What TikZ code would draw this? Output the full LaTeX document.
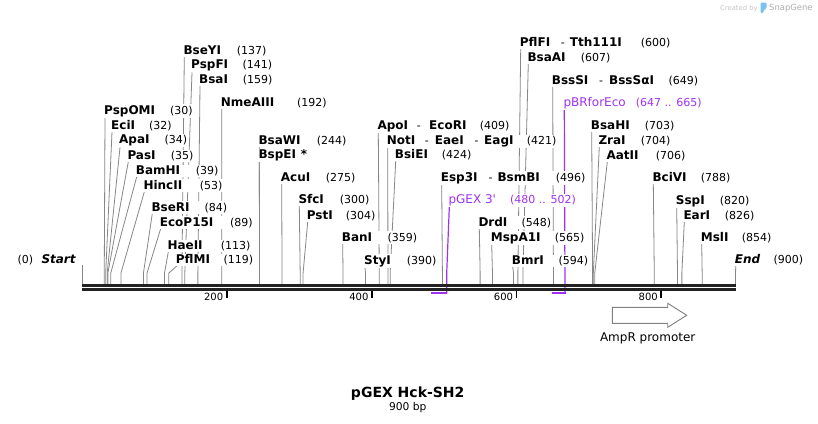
\documentclass[tikz,border=0pt]{standalone}
\usepackage{fontspec}
\setmainfont{DejaVu Sans}[Ligatures=TeXOff, ItalicFont={DejaVu Sans Oblique}, BoldItalicFont={DejaVu Sans Bold Oblique}]
\usetikzlibrary{calc}
\pgfdeclarelayer{bg}
\pgfdeclarelayer{paper}
\pgfsetlayers{paper,bg,main}
\definecolor{cutgray}{RGB}{135,135,135}
\definecolor{primer}{RGB}{160,50,240}
\definecolor{bbcol}{RGB}{34,34,34}
\definecolor{logoblue}{RGB}{120,195,240}
\newcommand\enz{\fontsize{12pt}{14pt}\selectfont\bfseries}
\newcommand\numf{\fontsize{11pt}{13pt}\selectfont\mdseries}
\newcommand\seg[2]{\makebox[#1pt][l]{#2}}
\newcommand\sitex[1]{82.5+0.7256*#1}
\newcommand\cutsite[5]{%
  \node[lab] (#1) at ({#2-1.8},{#3+4.4}) {#5};
  \coordinate (#1b) at ({\sitex{#4}},273);
  \coordinate (#1s) at ({\sitex{#4}},284);
  \begin{pgfonlayer}{bg}
    \draw[cutline] ([xshift=1.8pt]#1.south west) -- (#1b) -- (#1s);
  \end{pgfonlayer}%
}
\begin{document}
\begin{tikzpicture}[x=1pt, y=-1pt,
  lab/.style={anchor=base west, fill=white, inner sep=1pt, outer sep=0pt},
  plab/.style={lab, text=primer},
  cutline/.style={draw=cutgray, line width=0.8pt},
  primline/.style={draw=primer, line width=1.2pt},
  primbar/.style={draw=primer, line width=2pt},
  backbone/.style={draw=bbcol},
  tickmark/.style={draw=black, line width=1.8pt},
  ticklab/.style={anchor=base east, inner sep=0pt, font=\fontsize{10pt}{12pt}\selectfont}]
\useasboundingbox (0,0) rectangle (818,423);
\begin{pgfonlayer}{paper}
\fill[white] (0,0) rectangle (818,423);
\end{pgfonlayer}

% watermark
\node[anchor=base west, inner sep=0pt, text=gray!45, font=\fontsize{6.8pt}{8pt}\selectfont] (cb) at (720,10) {Created by};
\fill[logoblue, rounded corners=1.2pt] (760.5,2.5) -- (766.5,2.5) -- (766.5,8.5) -- (763.5,10) -- (763.5,13) -- (760.5,13) -- cycle;
\node[anchor=base west, inner sep=0pt, text=gray!65, font=\fontsize{8.4pt}{10pt}\selectfont] (sg) at (769,10.5) {SnapGene};

% left cluster
\cutsite{bseyi}{184.3}{50}{137}{\seg{53.4}{\enz BseYI}\numf(137)}
\cutsite{pspfi}{192}{64.5}{141}{\seg{51.5}{\enz PspFI}\numf(141)}
\cutsite{bsai}{200}{79.3}{159}{\seg{43.7}{\enz BsaI}\numf(159)}
\cutsite{nmeaiii}{221.7}{101.7}{192}{\seg{76.3}{\enz NmeAIII}\numf(192)}
\cutsite{pspomi}{105}{110}{30}{\seg{66}{\enz PspOMI}\numf(30)}
\cutsite{ecii}{112}{125}{32}{\seg{38}{\enz EciI}\numf(32)}
\cutsite{apai}{120}{139.5}{34}{\seg{45.3}{\enz ApaI}\numf(34)}
\cutsite{pasi}{128.3}{155}{35}{\seg{43.4}{\enz PasI}\numf(35)}
\cutsite{bamhi}{136.7}{170}{39}{\seg{60}{\enz BamHI}\numf(39)}
\cutsite{hincii}{144.3}{185}{53}{\seg{56.4}{\enz HincII}\numf(53)}
\cutsite{bseri}{152.3}{206.7}{84}{\seg{53}{\enz BseRI}\numf(84)}
\cutsite{ecop}{160.7}{221.7}{89}{\seg{70.3}{\enz EcoP15I}\numf(89)}
\cutsite{haeii}{168.3}{245}{113}{\seg{53.4}{\enz HaeII}\numf(113)}
\cutsite{pflmi}{176.7}{259.3}{119}{\seg{47.6}{\enz PflMI}\numf(119)}

% middle
\cutsite{bsawi}{259.3}{140}{244}{\seg{58.4}{\enz BsaWI}\numf(244)}
\cutsite{bspei}{259.3}{154.3}{244}{\seg{42.4}{\enz BspEI}{\enz *}}
\cutsite{acui}{281.7}{176.7}{275}{\seg{45}{\enz AcuI}\numf(275)}
\cutsite{sfci}{299.3}{199.3}{300}{\seg{41.4}{\enz SfcI}\numf(300)}
\cutsite{psti}{307.7}{215}{304}{\seg{39}{\enz PstI}\numf(304)}
\cutsite{bani}{342.7}{236.7}{359}{\seg{45.6}{\enz BanI}\numf(359)}
\cutsite{styi}{365}{260}{390}{\seg{42.7}{\enz StyI}\numf(390)}
\cutsite{apoi}{378.3}{125}{409}{\seg{39.4}{\enz ApoI}\seg{12.3}{\numf -}\seg{50.7}{\enz EcoRI}\numf(409)}
\cutsite{noti}{387.7}{140}{421}{\seg{38}{\enz NotI}\seg{10}{\numf -}\seg{39.6}{\enz EaeI}\seg{9.7}{\numf -}\seg{42.7}{\enz EagI}\numf(421)}
\cutsite{bsiei}{395.7}{154.3}{424}{\seg{47}{\enz BsiEI}\numf(424)}
\cutsite{esp}{441.7}{176.7}{496}{\seg{47.6}{\enz Esp3I}\seg{9}{\numf -}\seg{58.4}{\enz BsmBI}\numf(496)}
\cutsite{drdi}{479.3}{221.7}{548}{\seg{43}{\enz DrdI}\numf(548)}
\cutsite{mspa}{491.7}{236.7}{565}{\seg{64}{\enz MspA1I}\numf(565)}
\cutsite{bmri}{512.7}{260}{594}{\seg{46.6}{\enz BmrI}\numf(594)}

% right
\cutsite{pflfi}{520.7}{41.7}{600}{\seg{41}{\enz PflFI}\seg{9}{\numf -}\seg{71}{\enz Tth111I}\numf(600)}
\cutsite{bsaai}{528.3}{56.7}{607}{\seg{53.4}{\enz BsaAI}\numf(607)}
\cutsite{bsssi}{552.7}{80}{649}{\seg{47.3}{\enz BssSI}\seg{10}{\numf -}\seg{59.3}{\enz BssSαI}\numf(649)}
\cutsite{bsahi}{591.7}{125}{703}{\seg{54}{\enz BsaHI}\numf(703)}
\cutsite{zrai}{599.3}{140}{704}{\seg{42.4}{\enz ZraI}\numf(704)}
\cutsite{aatii}{607.3}{155}{706}{\seg{49.4}{\enz AatII}\numf(706)}
\cutsite{bcivi}{653.3}{176.7}{788}{\seg{48.4}{\enz BciVI}\numf(788)}
\cutsite{sspi}{676.7}{200}{820}{\seg{44}{\enz SspI}\numf(820)}
\cutsite{eari}{684.3}{215}{826}{\seg{41.4}{\enz EarI}\numf(826)}
\cutsite{msli}{701.7}{237.3}{854}{\seg{41}{\enz MslI}\numf(854)}
\cutsite{end}{735.7}{259.3}{900}{\seg{38.6}{\enz\itshape End}\numf(900)}

% start
\node[lab] (start) at (16.5,263.7) {\seg{24}{\numf(0)}{\enz\itshape Start}};
\coordinate (startT) at (82.5,265);
\coordinate (startS) at (82.5,284);
\begin{pgfonlayer}{bg}
  \draw[cutline] (startT) -- (startS);
\end{pgfonlayer}

% primers
\node[plab] (pgex) at (447.5,203.7) {\seg{61.7}{\fontsize{12pt}{14pt}\selectfont pGEX 3'}\numf(480 .. 502)};
\coordinate (pgexb) at (446.7,273);
\coordinate (pgexs) at (446.7,293.3);
\coordinate (pgexe) at (430.8,293.3);
\node[plab] (pbr) at (562.5,106.1) {\seg{72.4}{\fontsize{12pt}{14pt}\selectfont pBRforEco}\numf(647 .. 665)};
\coordinate (pbrs) at (565,293.3);
\coordinate (pbre) at (552,293.3);
\begin{pgfonlayer}{bg}
  \draw[primline] ([xshift=1.8pt]pgex.south west) -- (pgexb) -- (pgexs);
  \draw[primline] ([xshift=1.8pt]pbr.south west) -- (pbrs);
\end{pgfonlayer}
\draw[primbar] ([xshift=0.6pt]pgexs) -- (pgexe);
\draw[primbar] ([xshift=0.6pt]pbrs) -- (pbre);

% backbone
\coordinate (bbL) at (82.3,285.3);
\coordinate (bbR) at (735.7,285.3);
\draw[backbone, line width=2.7pt] (bbL) -- (bbR);
\draw[backbone, line width=2.3pt] ([yshift=-4.2pt]bbL) -- ([yshift=-4.2pt]bbR);

% ticks
\foreach \t/\lx in {200/226.7, 400/371.9, 600/516.5, 800/661.3}{
  \draw[tickmark] (\lx,290.6) -- (\lx,297.5);
  \node[ticklab] (tick\t) at (\lx-3.3,300.7) {\t};
}

% AmpR promoter
\draw[draw=gray, line width=0.9pt, fill=white] (612.3,307.3) -- (667.7,307.3) -- (667.7,303.3) -- (686.7,315.3) -- (667.7,327.3) -- (667.7,323.3) -- (612.3,323.3) -- cycle;
\node[anchor=base, inner sep=0pt, font=\fontsize{12pt}{14pt}\selectfont] (amprlab) at (647.7,341.5) {AmpR promoter};

% title
\node[anchor=base, inner sep=0pt, font=\fontsize{14pt}{16pt}\selectfont\bfseries] (title) at (407.7,397.6) {pGEX Hck-SH2};
\node[anchor=base, inner sep=0pt, font=\fontsize{10.7pt}{12pt}\selectfont] (size) at (407.7,410.3) {900 bp};
\end{tikzpicture}
\end{document}
